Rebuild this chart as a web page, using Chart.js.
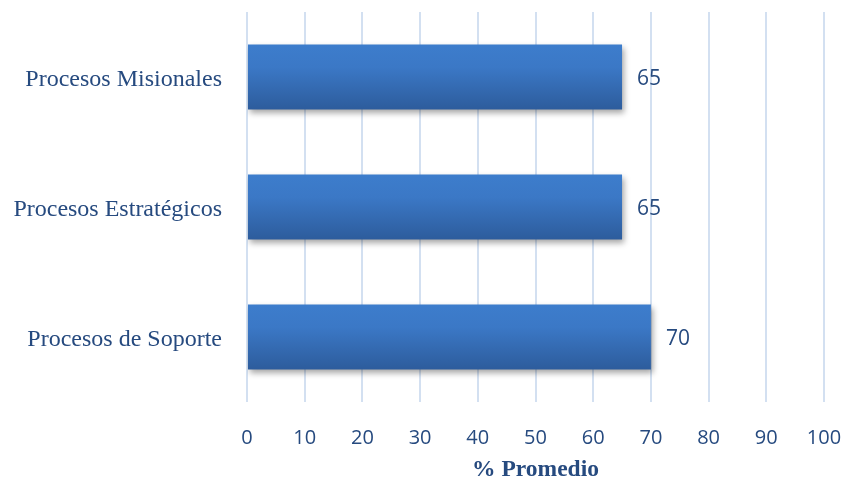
<!DOCTYPE html>
<html>
<head>
<meta charset="utf-8">
<script src="https://cdn.jsdelivr.net/npm/chart.js@4/dist/chart.umd.min.js"></script>
<style>
  html, body { margin: 0; padding: 0; background: #fff; }
  #wrap { width: 845px; height: 482px; }
</style>
</head>
<body>
<div id="wrap"><canvas id="procesosChart"></canvas></div>
<script>
const categorias = ['Procesos Misionales', 'Procesos Estratégicos', 'Procesos de Soporte'];
const promedios = [65, 65, 70];
const tituloEje = '% Promedio';

const azulTexto = '#264A7F';

// bar gradient: lighter at the top, darker at the bottom
function degradado(context) {
    const chart = context.chart;
    const yScale = chart.scales && chart.scales.y;
    if (!chart.chartArea || !yScale || context.dataIndex === undefined) return '#3A73BD';
    const centro = yScale.getPixelForValue(context.dataIndex);
    const h = (chart.chartArea.bottom - chart.chartArea.top) / categorias.length * 0.5;
    if (!Number.isFinite(centro) || !Number.isFinite(h)) return '#3A73BD';
    const g = chart.ctx.createLinearGradient(0, centro - h / 2, 0, centro + h / 2);
    g.addColorStop(0, '#3D7DCC');
    g.addColorStop(0.35, '#3B78C6');
    g.addColorStop(1, '#2D5C9C');
    return g;
}

const sombraBarras = {
    id: 'sombraBarras',
    beforeDatasetDraw(chart) {
        const ctx = chart.ctx;
        ctx.save();
        ctx.shadowColor = 'rgba(0,0,0,0.35)';
        ctx.shadowBlur = 6;
        ctx.shadowOffsetX = 2;
        ctx.shadowOffsetY = 3;
    },
    afterDatasetDraw(chart) {
        chart.ctx.restore();
    }
};

const etiquetasValor = {
    id: 'etiquetasValor',
    afterDatasetsDraw(chart) {
        const ctx = chart.ctx;
        const meta = chart.getDatasetMeta(0);
        ctx.save();
        ctx.font = '21px "Open Sans"';
        ctx.fillStyle = azulTexto;
        ctx.textAlign = 'left';
        ctx.textBaseline = 'middle';
        meta.data.forEach((bar, i) => {
            ctx.fillText(String(chart.data.datasets[0].data[i]), bar.x + 15, bar.y + 2);
        });
        ctx.restore();
    }
};

const ctx = document.getElementById('procesosChart').getContext('2d');

let chart = new Chart(ctx, {
    type: 'bar',
    data: {
        labels: categorias,
        datasets: [
            {
                data: promedios,
                backgroundColor: degradado,
                borderWidth: 0,
                categoryPercentage: 1,
                barPercentage: 0.5
            }
        ]
    },
    options: {
        indexAxis: 'y',
        responsive: true,
        maintainAspectRatio: false,
        animation: false,
        layout: { padding: { top: 12, right: 21, left: 0, bottom: 0 } },
        plugins: {
            legend: { display: false },
            tooltip: { enabled: false }
        },
        scales: {
            x: {
                min: 0,
                max: 100,
                ticks: {
                    stepSize: 10,
                    padding: 0,
                    color: azulTexto,
                    font: { family: '"Open Sans"', size: 20 },
                    maxRotation: 0
                },
                // invisible tick marks keep the labels clear of the grid
                grid: { color: '#D3E0F1', lineWidth: 2, drawTicks: true, tickLength: 24, tickColor: 'rgba(0,0,0,0)' },
                border: { display: false },
                title: {
                    display: true,
                    text: tituloEje,
                    color: azulTexto,
                    font: { family: '"Liberation Serif"', size: 23.5, weight: 'bold', lineHeight: 1 },
                    padding: { top: 0, bottom: 0 }
                },
                afterFit(scale) { scale.height = 80; }
            },
            y: {
                ticks: {
                    padding: 0,
                    labelOffset: 3,
                    color: azulTexto,
                    font: { family: '"Liberation Serif"', size: 24, lineHeight: 1 }
                },
                grid: { display: false, drawTicks: true, tickLength: 25 },
                border: { display: false },
                afterFit(scale) { scale.width = 247; }
            }
        }
    },
    plugins: [sombraBarras, etiquetasValor]
});
</script>
</body>
</html>
